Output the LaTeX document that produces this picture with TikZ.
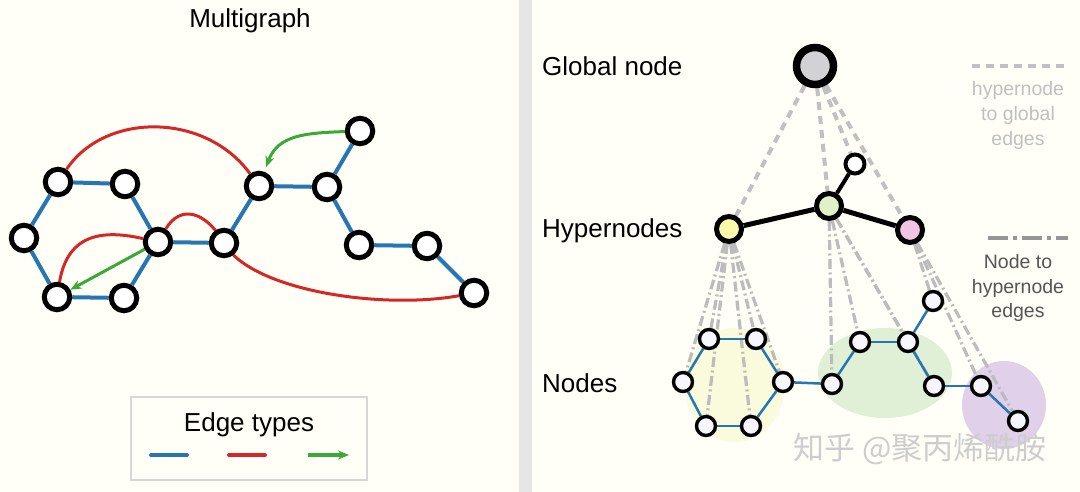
\documentclass[tikz,border=0pt]{standalone}
\usepackage{fontspec}
\setmainfont{Liberation Sans}
\newfontfamily\cjkfont{Noto Sans CJK SC}
\usetikzlibrary{arrows.meta}
\pgfdeclarelayer{bg}
\pgfdeclarelayer{edges}
\pgfsetlayers{bg,edges,main}
\definecolor{bgc}{RGB}{255,255,248}
\definecolor{sepc}{RGB}{230,230,230}
\definecolor{eblue}{RGB}{38,118,178}
\definecolor{ered}{RGB}{214,39,40}
\definecolor{egreen}{RGB}{60,168,55}
\definecolor{nodefill}{RGB}{246,246,252}
\definecolor{hyellow}{RGB}{250,250,170}
\definecolor{hgreen}{RGB}{226,240,200}
\definecolor{hpink}{RGB}{240,196,226}
\definecolor{gfill}{RGB}{210,210,212}
\definecolor{byellow}{RGB}{250,250,220}
\definecolor{bgreen}{RGB}{224,240,214}
\definecolor{bpurple}{RGB}{224,208,234}
\definecolor{dashgray}{RGB}{192,192,192}
\definecolor{dotgray}{RGB}{188,188,188}
\definecolor{legdot}{RGB}{150,150,150}
\definecolor{lightlbl}{RGB}{192,192,192}
\definecolor{darklbl}{RGB}{85,85,85}
\definecolor{boxgray}{RGB}{215,215,215}
\definecolor{wmgray}{RGB}{205,205,205}
\begin{document}
\begin{tikzpicture}[x=1pt,y=-1pt,
  lnode/.style={circle,draw=black,line width=5pt,fill=white,minimum size=25.5pt,inner sep=0pt},
  bnode/.style={circle,draw=black,line width=3.4pt,fill=nodefill,minimum size=19pt,inner sep=0pt},
  hnode/.style={circle,draw=black,line width=5pt,minimum size=25pt,inner sep=0pt},
  bluee/.style={draw=eblue,line width=4pt},
  rede/.style={draw=ered,line width=3pt},
  greene/.style={draw=egreen,line width=3pt,-{Stealth[length=11pt,width=9pt]}},
  sbluee/.style={draw=eblue,line width=2.5pt},
  blacke/.style={draw=black,line width=5pt},
  globe/.style={draw=dashgray,line width=4pt,dash pattern=on 8pt off 6pt},
  hype/.style={draw=dotgray,line width=3.2pt,dash pattern=on 10pt off 3.5pt on 2pt off 3.5pt},
  lbl/.style={font=\fontsize{26}{30}\selectfont,text=black,inner sep=0pt},
  smlbl/.style={font=\fontsize{19.5}{24}\selectfont,inner sep=0pt,anchor=base}
]
\useasboundingbox (0,0) rectangle (1080,492);
\begin{pgfonlayer}{bg}
  \fill[bgc] (0,0) rectangle (1080,492);
  \fill[sepc] (519,0) rectangle (532,492);
  \fill[byellow] (735,385) ellipse (50 and 57);
  \fill[bgreen] (885,373) ellipse (67 and 45);
  \fill[bpurple] (1004,405) ellipse (42 and 44);
\end{pgfonlayer}

% ---------------- Left: multigraph ----------------
\node[lbl,anchor=base] (title) at (250,28) {Multigraph};

\node[lnode] (A) at (58,182) {};
\node[lnode] (B) at (125,184) {};
\node[lnode] (C) at (24,238) {};
\node[lnode] (D) at (158,242) {};
\node[lnode] (E) at (57,297) {};
\node[lnode] (F) at (124,298) {};
\node[lnode] (G) at (224,243) {};
\node[lnode] (H) at (259,186) {};
\node[lnode] (I) at (327,187) {};
\node[lnode] (J) at (360,131) {};
\node[lnode] (K) at (359,245) {};
\node[lnode] (L) at (427,246) {};
\node[lnode] (M) at (474,293) {};

\begin{pgfonlayer}{edges}
  \draw[bluee] (A) -- (B);
  \draw[bluee] (A) -- (C);
  \draw[bluee] (B) -- (D);
  \draw[bluee] (C) -- (E);
  \draw[bluee] (E) -- (F);
  \draw[bluee] (F) -- (D);
  \draw[bluee] (D) -- (G);
  \draw[bluee] (G) -- (H);
  \draw[bluee] (H) -- (I);
  \draw[bluee] (I) -- (J);
  \draw[bluee] (I) -- (K);
  \draw[bluee] (K) -- (L);
  \draw[bluee] (L) -- (M);
  \draw[rede] (A) .. controls (105,112) and (205,112) .. (H);
  \draw[rede] (E) .. controls (68,232) and (105,230) .. (D);
  \draw[rede] (D) .. controls (180,205) and (205,210) .. (G.center)
              .. controls (250,290) and (380,310) .. (M);
  \draw[greene,shorten >=5pt] (J) .. controls (305,133) and (278,135) .. (H);
  \draw[greene] (D) -- (E);
\end{pgfonlayer}

% legend box
\node[draw=boxgray,line width=1.5pt,minimum width=236pt,minimum height=83pt,inner sep=0pt] (lbox) at (249,438.5) {};
\node[lbl,anchor=base] (ltitle) at (249,431) {Edge types};
\coordinate (lb1) at (151,455); \coordinate (lb2) at (187,455);
\coordinate (lr1) at (229,455); \coordinate (lr2) at (265,455);
\coordinate (lg1) at (308,455); \coordinate (lg2) at (349,455);
\draw[bluee,line cap=round] (lb1) -- (lb2);
\draw[ered,line width=4pt,line cap=round] (lr1) -- (lr2);
\draw[egreen,line width=4pt,-{Stealth[length=11pt,width=9pt]}] (lg1) -- (lg2);

% ---------------- Right: hierarchy ----------------
\node[lbl,anchor=base west] (tglob) at (542,76) {Global node};
\node[lbl,anchor=base west] (thyp) at (542,237) {Hypernodes};
\node[lbl,anchor=base west] (tnod) at (542,392) {Nodes};

\node[circle,draw=black,line width=7.5pt,fill=gfill,minimum size=37pt,inner sep=0pt] (glob) at (815,66) {};
\node[hnode,fill=hyellow] (hy) at (729,229) {};
\node[hnode,fill=hgreen] (hg) at (829,206) {};
\node[hnode,fill=hpink] (hp) at (910,230) {};
\node[circle,draw=black,line width=4pt,fill=white,minimum size=19pt,inner sep=0pt] (hs) at (855,164) {};

\node[bnode] (tl) at (709,339) {};
\node[bnode] (tr) at (756,339) {};
\node[bnode] (le) at (683,382) {};
\node[bnode] (ri) at (783,382) {};
\node[bnode] (bl) at (706,426) {};
\node[bnode] (br) at (751,426) {};
\node[bnode] (n1) at (832,384) {};
\node[bnode] (n2) at (860,342) {};
\node[bnode] (n3) at (908,342) {};
\node[bnode] (n4) at (933,301) {};
\node[bnode] (n5) at (934,386) {};
\node[bnode] (n6) at (981,386) {};
\node[bnode] (n7) at (1018,421) {};

\begin{pgfonlayer}{edges}
  \draw[globe] (glob) -- (hy);
  \draw[globe] (glob) -- (hg);
  \draw[globe] (glob) -- (hs);
  \draw[globe] (glob) -- (hp);
  \draw[hype] (hy) -- (tl);
  \draw[hype] (hy) -- (tr);
  \draw[hype] (hy) -- (le);
  \draw[hype] (hy) -- (ri);
  \draw[hype] (hy) -- (bl);
  \draw[hype] (hy) -- (br);
  \draw[hype] (hg) -- (n1);
  \draw[hype] (hg) -- (n2);
  \draw[hype] (hg) -- (n3);
  \draw[hype] (hg) -- (n5);
  \draw[hype] (hp) -- (n4);
  \draw[hype] (hp) -- (n6);
  \draw[hype] (hp) -- (n7);
  \draw[blacke] (hy) -- (hg);
  \draw[blacke] (hg) -- (hp);
  \draw[black,line width=4pt] (hg) -- (hs);
  \draw[sbluee] (tl) -- (tr);
  \draw[sbluee] (tl) -- (le);
  \draw[sbluee] (tr) -- (ri);
  \draw[sbluee] (le) -- (bl);
  \draw[sbluee] (ri) -- (br);
  \draw[sbluee] (bl) -- (br);
  \draw[sbluee] (ri) -- (n1);
  \draw[sbluee] (n1) -- (n2);
  \draw[sbluee] (n2) -- (n3);
  \draw[sbluee] (n3) -- (n4);
  \draw[sbluee] (n3) -- (n5);
  \draw[sbluee] (n5) -- (n6);
  \draw[sbluee] (n6) -- (n7);
\end{pgfonlayer}

% right legends
\coordinate (d1) at (972,66); \coordinate (d2) at (1066,66);
\draw[globe] (d1) -- (d2);
\node[smlbl,text=lightlbl] (lg1t) at (1018,96) {hypernode};
\node[smlbl,text=lightlbl] (lg2t) at (1018,121) {to global};
\node[smlbl,text=lightlbl] (lg3t) at (1018,146) {edges};
\coordinate (e1) at (988,238); \coordinate (e2) at (1068,238);
\draw[draw=legdot,line width=3.5pt,dash pattern=on 20pt off 5pt on 4pt off 5pt] (e1) -- (e2);
\node[smlbl,text=darklbl] (ln1t) at (1018,268) {Node to};
\node[smlbl,text=darklbl] (ln2t) at (1018,293) {hypernode};
\node[smlbl,text=darklbl] (ln3t) at (1018,317) {edges};

% watermark
\node[font=\cjkfont\fontsize{31}{31}\selectfont,text=wmgray,anchor=base,inner sep=0pt] (wm) at (920,459) {知乎 @聚丙烯酰胺};
\end{tikzpicture}
\end{document}
